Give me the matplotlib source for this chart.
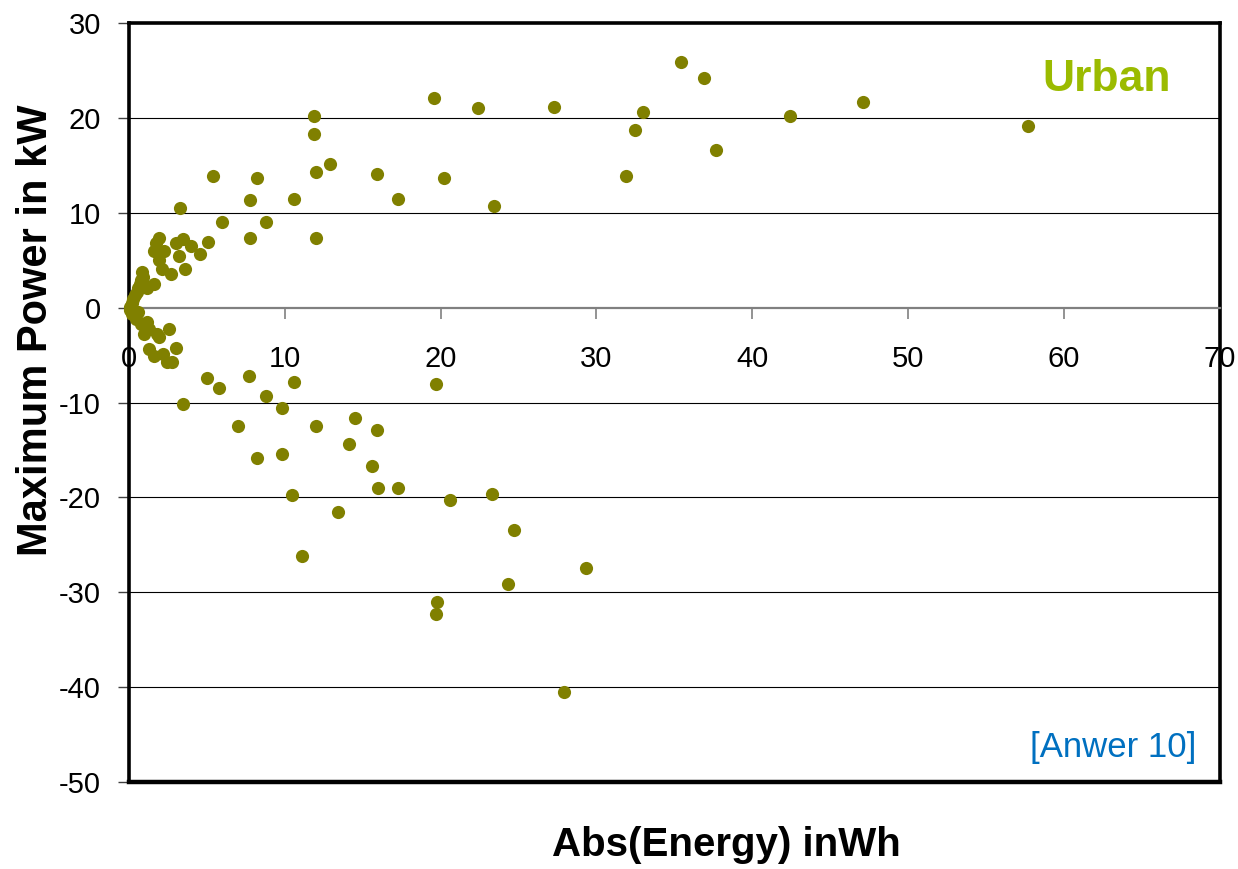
import matplotlib.pyplot as plt

plt.rcParams['font.family'] = ['Liberation Sans', 'DejaVu Sans']
plt.rcParams['axes.unicode_minus'] = False

# Charging events (positive power)
EnergyUp = [57.7, 47.1, 42.4, 35.4, 36.9, 37.7, 33.0, 32.5, 31.9, 27.3, 22.4, 19.6, 20.2, 23.4,
            17.3, 15.9, 12.9, 11.9, 11.9, 12.0, 12.0, 10.6, 8.8, 8.2, 7.8, 7.8, 6.0, 5.4, 5.1,
            4.6, 3.3, 3.5, 4.0, 3.6, 3.2, 3.0, 2.7, 2.15, 1.94, 2.26, 1.62, 1.73, 1.94, 1.62,
            1.19, 0.88, 1.0, 0.9, 0.8, 0.7, 0.6, 0.5, 0.4, 0.3, 0.2, 0.05]
PowerUp = [19.1, 21.7, 20.2, 25.9, 24.2, 16.6, 20.6, 18.7, 13.9, 21.2, 21.0, 22.1, 13.7, 10.7,
           11.5, 14.1, 15.1, 20.2, 18.3, 14.3, 7.3, 11.5, 9.0, 13.7, 11.3, 7.3, 9.0, 13.9, 6.9,
           5.7, 10.5, 7.2, 6.5, 4.1, 5.4, 6.8, 3.5, 4.1, 5.0, 6.0, 6.0, 6.8, 7.3, 2.5,
           2.1, 3.8, 2.4, 3.2, 2.9, 2.5, 2.1, 1.7, 1.3, 0.9, 0.5, 0.1]

# Discharging events (negative power)
EnergyDown = [0.1, 0.24, 0.45, 0.6, 0.77, 1.2, 1.3, 0.98, 1.83, 1.94, 2.58, 1.3, 1.62, 2.2, 3.0,
              2.47, 2.79, 3.5, 5.0, 5.8, 7.0, 7.7, 8.2, 8.8, 9.85, 9.85, 10.6, 10.5, 11.1,
              12.0, 13.4, 14.1, 14.5, 15.6, 15.9, 16.0, 17.3, 19.7, 20.6, 19.8, 19.7, 23.3,
              24.3, 24.7, 27.9, 29.3]
PowerDown = [-0.3, -0.7, -1.2, -0.5, -1.7, -1.5, -2.2, -2.8, -2.8, -3.1, -2.2, -4.4, -5.1, -4.9, -4.3,
             -5.7, -5.7, -10.2, -7.4, -8.5, -12.5, -7.2, -15.9, -9.3, -10.6, -15.4, -7.8, -19.7, -26.2,
             -12.5, -21.5, -14.4, -11.6, -16.7, -12.9, -19.0, -19.0, -8.1, -20.3, -31.0, -32.3, -19.6,
             -29.1, -23.4, -40.5, -27.4]

XTicks = [0, 10, 20, 30, 40, 50, 60, 70]
YTicks = [30, 20, 10, 0, -10, -20, -30, -40, -50]

fig = plt.figure(figsize=(12.38, 8.69), dpi=100)
ax = fig.add_axes([0.104, 0.1001, 0.8815, 0.8734])

ax.set_xlim(0, 70)
ax.set_ylim(-50, 30)
ax.set_xticks(XTicks)
ax.set_yticks(YTicks)

# horizontal gridlines
for y in YTicks:
    if y not in (0, 30, -50):
        ax.axhline(y, color='black', lw=0.8, zorder=1)

# x axis crosses at zero, frame drawn around the plot area
ax.spines['bottom'].set_position(('data', 0))
ax.spines['bottom'].set_color('#808080')
ax.spines['bottom'].set_linewidth(1.6)
for side in ('left', 'top', 'right'):
    ax.spines[side].set_linewidth(2.6)
    ax.spines[side].set_color('black')
ax.axhline(-50, color='black', lw=3.2, clip_on=False, zorder=2.6)

ax.tick_params(axis='x', direction='out', length=8, width=1.2, color='#808080',
               labelsize=21, pad=19)
ax.tick_params(axis='y', direction='out', length=8, width=1.0, color='#404040',
               labelsize=21, pad=12)

ax.scatter(EnergyUp, PowerUp, s=90, color='#808000', zorder=4, clip_on=False, linewidths=0)
ax.scatter(EnergyDown, PowerDown, s=90, color='#808000', zorder=4, clip_on=False, linewidths=0)

ax.text(0.955, 0.926, "Urban", transform=ax.transAxes, ha='right', va='center',
        fontsize=32, fontweight='bold', color='#9BBB00')
ax.text(0.978, 0.046, "[Anwer 10]", transform=ax.transAxes, ha='right', va='center',
        fontsize=25, color='#0070C0')

fig.text(0.587, 0.028, "Abs(Energy) inWh", ha='center', va='center',
         fontsize=29, fontweight='bold')
fig.text(0.029, 0.62, "Maximum Power in kW", ha='center', va='center', rotation=90,
         fontsize=30, fontweight='bold')

plt.savefig("out.png", dpi=100)
